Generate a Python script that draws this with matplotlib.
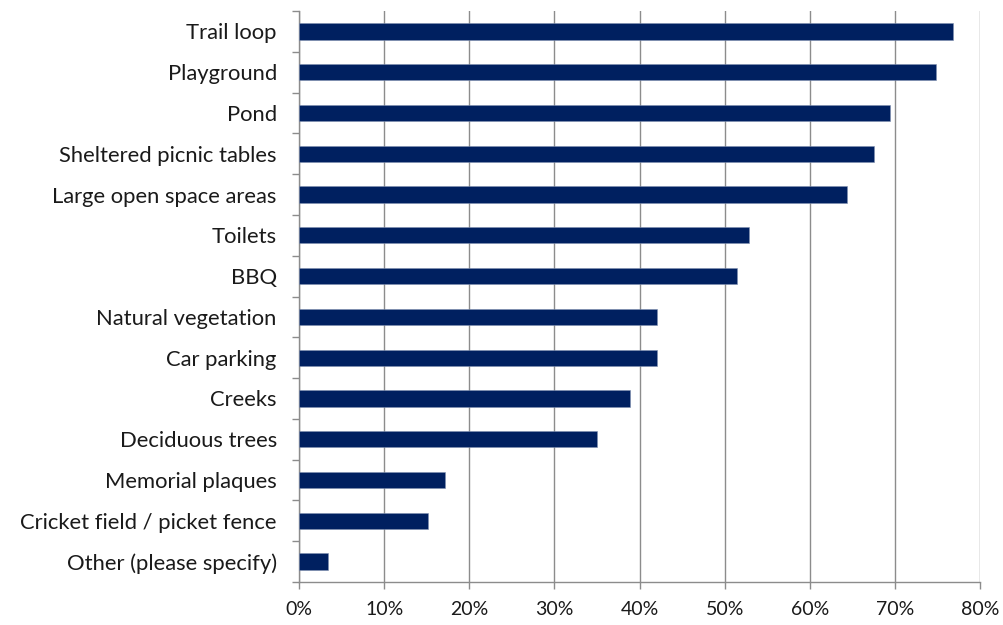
import numpy as np
import matplotlib.pyplot as plt
from matplotlib.ticker import PercentFormatter, FixedLocator

# Données (pourcentages)
categories = ['Trail loop', 'Playground', 'Pond', 'Sheltered picnic tables',
              'Large open space areas', 'Toilets', 'BBQ', 'Natural vegetation',
              'Car parking', 'Creeks', 'Deciduous trees', 'Memorial plaques',
              'Cricket field / picket fence', 'Other (please specify)']
values = [76.8, 74.8, 69.4, 67.5, 64.4, 52.9, 51.5, 42.0, 42.0, 38.9, 35.0,
          17.1, 15.1, 3.4]
x_ticks = [0, 10, 20, 30, 40, 50, 60, 70, 80]

plt.rcParams['font.family'] = ['Lato', 'DejaVu Sans']

fig = plt.figure(figsize=(10.04, 6.25), dpi=100)
ax = fig.add_axes([299 / 1004, 1 - 582 / 625, 681 / 1004, 571 / 625])

y = np.arange(len(categories))
ax.barh(y, values, height=0.4, color='#002060', edgecolor='#8090b0', linewidth=0.4, zorder=3)

ax.set_xlim(0, 80)
ax.set_ylim(len(categories) - 0.5, -0.5)
ax.set_xticks(x_ticks)
ax.xaxis.set_major_formatter(PercentFormatter(decimals=0))
ax.set_yticks(y)
ax.set_yticklabels(categories)
ax.yaxis.set_minor_locator(FixedLocator(np.arange(-0.5, len(categories), 1)))

ax.grid(axis='x', color='#8c8c8c', linewidth=1, zorder=0)
for s in ['top', 'right']:
    ax.spines[s].set_visible(False)
for s in ['left', 'bottom']:
    ax.spines[s].set_color('#8c8c8c')
    ax.spines[s].set_linewidth(1)

ax.tick_params(axis='y', which='major', length=0, pad=16, labelsize=15.8, labelcolor='#1a1a1a')
ax.tick_params(axis='y', which='minor', length=5, color='#8c8c8c', width=1)
ax.tick_params(axis='x', length=5, color='#8c8c8c', width=1, pad=9, labelsize=14, labelcolor='#1a1a1a')

fig.savefig('out.png', dpi=100)
